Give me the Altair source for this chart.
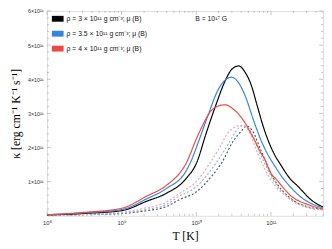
import altair as alt
import pandas as pd

# ---- data (kappa in units of 1e21 erg cm^-1 K^-1 s^-1, T as log10) ----
logT_black = [8.0, 8.5, 9.0, 9.34, 9.6, 9.86, 10.014, 10.123, 10.254, 10.385, 10.48, 10.569, 10.65, 10.735, 10.82, 10.9, 11.04, 11.13, 11.26, 11.35, 11.56, 11.72]
k_black    = [0.02, 0.07, 0.15, 0.43, 0.66, 1.08, 1.60, 2.35, 3.19, 3.94, 4.30, 4.39, 4.22, 3.84, 3.20, 2.60, 1.83, 1.50, 1.08, 0.89, 0.43, 0.24]

logT_blue = [8.0, 8.5, 9.0, 9.34, 9.6, 9.86, 9.93, 10.035, 10.167, 10.30, 10.39, 10.473, 10.56, 10.647, 10.78, 10.88, 10.95, 11.04, 11.17, 11.26, 11.39, 11.48, 11.72]
k_blue    = [0.03, 0.085, 0.18, 0.50, 0.80, 1.30, 1.60, 2.20, 3.00, 3.72, 3.98, 4.06, 3.92, 3.56, 2.72, 2.15, 1.83, 1.50, 1.08, 0.85, 0.57, 0.43, 0.22]

logT_red = [8.0, 8.5, 9.0, 9.34, 9.6, 9.86, 10.035, 10.21, 10.30, 10.385, 10.50, 10.604, 10.78, 10.87, 10.91, 11.0, 11.08, 11.26, 11.52, 11.72]
k_red    = [0.03, 0.10, 0.22, 0.58, 0.89, 1.52, 2.42, 3.10, 3.22, 3.25, 3.12, 2.88, 2.22, 1.83, 1.69, 1.25, 1.05, 0.60, 0.31, 0.19]

logT_black_d = [8.0, 8.5, 9.0, 9.34, 9.6, 9.77, 10.0, 10.21, 10.34, 10.5, 10.604, 10.67, 10.75, 10.87, 11.04, 11.26, 11.5, 11.72]
k_black_d    = [0.01, 0.03, 0.07, 0.15, 0.27, 0.47, 0.70, 1.17, 1.55, 2.20, 2.48, 2.63, 2.50, 1.90, 1.08, 0.52, 0.26, 0.19]

logT_blue_d = [8.0, 8.5, 9.0, 9.34, 9.6, 9.77, 10.0, 10.25, 10.47, 10.52, 10.625, 10.72, 10.85, 11.04, 11.26, 11.5, 11.72]
k_blue_d    = [0.01, 0.035, 0.08, 0.19, 0.33, 0.57, 0.85, 1.50, 2.25, 2.44, 2.64, 2.50, 1.85, 1.02, 0.48, 0.24, 0.18]

logT_red_d = [8.0, 8.5, 9.0, 9.34, 9.6, 9.77, 10.0, 10.17, 10.3, 10.43, 10.52, 10.60, 10.7, 10.8, 11.0, 11.26, 11.5, 11.72]
k_red_d    = [0.01, 0.04, 0.10, 0.24, 0.40, 0.65, 1.00, 1.50, 1.95, 2.44, 2.60, 2.65, 2.50, 1.95, 1.05, 0.50, 0.25, 0.17]

series = [
    ("black_d", logT_black_d, k_black_d, "#555555", [2, 2]),
    ("blue_d", logT_blue_d, k_blue_d, "#86b6e8", [2, 2]),
    ("red_d", logT_red_d, k_red_d, "#f5a3a0", [2, 2]),
    ("black", logT_black, k_black, "#000000", [1, 0]),
    ("blue", logT_blue, k_blue, "#2f86da", [1, 0]),
    ("red", logT_red, k_red, "#ec4a40", [1, 0]),
]

legend_labels = ["ρ = 3 × 10¹¹ g cm⁻³; μ (B)", "ρ = 3.5 × 10¹¹ g cm⁻³; μ (B)", "ρ = 4 × 10¹¹ g cm⁻³; μ (B)"]
legend_colors = ["#000000", "#2f86da", "#ec4a40"]

x_major = [1e8, 1e9, 1e10, 1e11]
x_minor = [m * 10 ** e for e in range(8, 12) for m in range(2, 10) if m * 10 ** e <= 5e11]
y_major = [1e21, 2e21, 3e21, 4e21, 5e21, 6e21]
y_minor = [v * 1e20 for v in range(2, 60, 2) if v % 10 != 0]

W, H = 283, 210

rows = []
for name, xs, ys, col, dash in series:
    for lx, k in zip(xs, ys):
        rows.append({"series": name, "T": 10 ** lx, "k": k * 1e21})
df = pd.DataFrame(rows)

xscale = alt.Scale(type="log", domain=[1e8, 5e11], nice=False)
yscale = alt.Scale(domain=[0, 6e21], nice=False, zero=False)

x_label_expr = ("datum.value == 1e8 ? '10⁸' : datum.value == 1e9 ? '10⁹' : "
                "datum.value == 1e10 ? '10¹⁰' : '10¹¹'")
y_label_expr = "format(datum.value / 1e21, 'd') + '×10²¹'"

base = alt.Chart(df)
layers = []
for name, xs, ys, col, dash in series:
    enc_x = alt.X("T:Q", scale=xscale,
                  axis=alt.Axis(values=x_major, labelExpr=x_label_expr, ticks=False, domain=False, grid=False,
                                labelFontSize=6, labelFont="Liberation Sans", labelColor="#333333",
                                labelPadding=4, title="T [K]", titleFont="Liberation Serif",
                                titleFontSize=12, titleFontWeight="normal", titlePadding=5,
                                labelFlush=False))
    enc_y = alt.Y("k:Q", scale=yscale,
                  axis=alt.Axis(values=y_major, labelExpr=y_label_expr, ticks=False, domain=False, grid=False,
                                labelFontSize=5.5, labelFont="Liberation Sans", labelColor="#333333",
                                labelPadding=4, title="κ [erg cm⁻¹ K⁻¹ s⁻¹]", titleFont="Liberation Serif",
                                titleFontSize=12, titleFontWeight="normal",
                                titleX=-32, titleY=H / 2, titleAngle=-90,
                                titleAlign="center", titleBaseline="middle"))
    layers.append(
        base.transform_filter(alt.datum.series == name)
        .mark_line(interpolate="monotone", strokeWidth=1.2, color=col, strokeDash=dash, clip=True)
        .encode(x=enc_x, y=enc_y)
    )

tick_col = "#aaaaaa"
xmaj_df = pd.DataFrame({"T": x_major})
xmin_df = pd.DataFrame({"T": x_minor})
ymaj_df = pd.DataFrame({"k": y_major})
ymin_df = pd.DataFrame({"k": y_minor})

def xticks(d, ln):
    c = alt.Chart(d).mark_rule(color=tick_col, strokeWidth=0.7)
    bot = c.encode(x=alt.X("T:Q", scale=xscale), y=alt.value(H), y2=alt.value(H - ln))
    top = c.encode(x=alt.X("T:Q", scale=xscale), y=alt.value(0), y2=alt.value(ln))
    return [bot, top]

def yticks(d, ln):
    c = alt.Chart(d).mark_rule(color=tick_col, strokeWidth=0.7)
    left = c.encode(y=alt.Y("k:Q", scale=yscale), x=alt.value(0), x2=alt.value(ln))
    right = c.encode(y=alt.Y("k:Q", scale=yscale), x=alt.value(W), x2=alt.value(W - ln))
    return [left, right]

tick_layers = xticks(xmaj_df, 4) + xticks(xmin_df, 2) + yticks(ymaj_df, 4) + yticks(ymin_df, 2)

leg_df = pd.DataFrame({"label": legend_labels, "color": legend_colors, "i": list(range(len(legend_labels)))})
leg_base = alt.Chart(leg_df).transform_calculate(
    cy="8 + datum.i * 15.3", y1="5 + datum.i * 15.3", y2="11 + datum.i * 15.3"
)
leg_rect = leg_base.mark_rect().encode(
    x=alt.value(5), x2=alt.value(17),
    y=alt.Y("y1:Q", scale=None), y2=alt.Y2("y2:Q"),
    color=alt.Color("color:N", scale=None, legend=None),
)
leg_text = leg_base.mark_text(align="left", baseline="middle", fontSize=7, font="Liberation Sans", color="#111111").encode(
    x=alt.value(20), y=alt.Y("cy:Q", scale=None), text="label:N"
)
btext = alt.Chart(alt.Data(values=[{}])).mark_text(
    text="B = 10¹⁷ G", align="left", baseline="middle", fontSize=7, font="Liberation Sans", color="#111111"
).encode(x=alt.value(152), y=alt.value(8))

chart = alt.layer(*tick_layers, *layers, leg_rect, leg_text, btext).properties(
    width=W, height=H,
    autosize=alt.AutoSizeParams(type="none"),
    padding={"left": 40, "top": 0, "right": 1, "bottom": 31},
).configure_view(stroke="#bbbbbb", strokeWidth=0.8).configure(background="white")

chart.save("out.html", embed_options={"renderer": "svg", "actions": False})
